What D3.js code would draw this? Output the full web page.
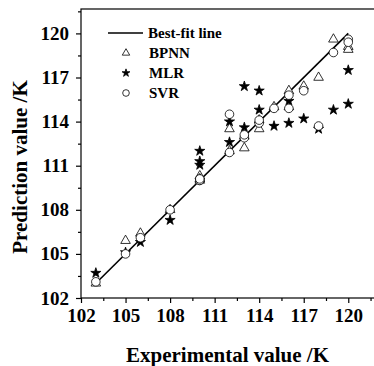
<!DOCTYPE html>
<html>
<head>
<meta charset="utf-8">
<script src="https://cdn.jsdelivr.net/npm/d3@7"></script>
<style>
  body { margin: 0; background: #fff; }
  svg text { font-family: "Liberation Serif", "Times New Roman", serif; font-weight: bold; fill: #000; }
</style>
</head>
<body>
<svg id="chart" width="374" height="366"></svg>
<script>

// experimental values (x) shared by every model
var expVals  = [103, 105, 106, 108, 110, 110, 110, 112, 112, 113, 113, 114, 114, 115, 116, 116, 117, 118, 119, 120, 120];
var bpnnPred = [103.0, 105.9, 106.4, 108.0, 110.3, 110.1, 110.0, 113.5, 112.0, 112.2, 113.0, 113.5, 114.1, 115.0, 116.1, 115.0, 116.4, 117.0, 119.6, 119.1, 118.9];
var mlrPred  = [103.7, 105.1, 105.8, 107.3, 112.0, 111.3, 111.05, 114.0, 112.6, 116.4, 113.6, 116.1, 114.8, 113.7, 115.4, 113.9, 114.2, 113.5, 114.8, 117.5, 115.2];
var svrPred  = [103.1, 105.0, 106.1, 108.0, 110.0, 110.0, 110.1, 114.5, 111.9, 112.9, 113.1, 113.9, 114.1, 114.9, 115.8, 114.9, 116.1, 113.7, 118.7, 119.6, 119.4];
var fitX = [103, 120];
var fitY = [103, 120];
var majorTicks = [102, 105, 108, 111, 114, 117, 120];
var minorTicks = [103.5, 106.5, 109.5, 112.5, 115.5, 118.5, 121.5];
var seriesNames = ["BPNN", "MLR", "SVR"];

var svg = d3.select("#chart");
var margin = {left: 81, top: 9, right: 375, bottom: 298};

var x = d3.scaleLinear().domain([102, 121.8]).range([margin.left, margin.right]);
var y = d3.scaleLinear().domain([102, 121.66]).range([margin.bottom, margin.top]);

// frame
svg.append("rect")
    .attr("x", margin.left).attr("y", margin.top)
    .attr("width", margin.right - margin.left).attr("height", margin.bottom - margin.top)
    .attr("fill", "none").attr("stroke", "#000").attr("stroke-width", 1.2);

function styleAxis(g, size){
    g.select(".domain").remove();
    g.selectAll("line").attr("stroke", "#000").attr("stroke-width", 1.2);
    g.selectAll("text").style("font-size", size + "px");
}

svg.append("g")
    .attr("transform", "translate(0," + margin.bottom + ")")
    .call(d3.axisBottom(x).tickValues(majorTicks).tickSize(5).tickPadding(6).tickFormat(d3.format("d")))
    .call(styleAxis, 19);
svg.append("g")
    .attr("transform", "translate(0," + margin.bottom + ")")
    .call(d3.axisBottom(x).tickValues(minorTicks).tickSize(3).tickFormat(""))
    .call(styleAxis, 19);
svg.append("g")
    .attr("transform", "translate(" + margin.left + ",0)")
    .call(d3.axisLeft(y).tickValues(majorTicks).tickSize(5).tickPadding(7).tickFormat(d3.format("d")))
    .call(styleAxis, 19);
svg.append("g")
    .attr("transform", "translate(" + margin.left + ",0)")
    .call(d3.axisLeft(y).tickValues(minorTicks).tickSize(3).tickFormat(""))
    .call(styleAxis, 19);

// axis titles
svg.append("text")
    .attr("x", (margin.left + 374) / 2 + 0).attr("y", 362)
    .attr("text-anchor", "middle").style("font-size", "21px")
    .text("Experimental value /K");
svg.append("text")
    .attr("transform", "translate(27," + 167 + ") rotate(-90)")
    .attr("text-anchor", "middle").style("font-size", "21px")
    .text("Prediction value /K");

// best-fit line
var line = d3.line().x(function(d){ return x(d[0]); }).y(function(d){ return y(d[1]); });
svg.append("path")
    .datum(d3.zip(fitX, fitY))
    .attr("d", line)
    .attr("fill", "none").attr("stroke", "#000").attr("stroke-width", 1.6);

var shapes = {
    "BPNN": {sym: d3.symbolTriangle, size: 40, fill: "#fff", pred: bpnnPred},
    "MLR":  {sym: d3.symbolStar,     size: 32, fill: "#000", pred: mlrPred},
    "SVR":  {sym: d3.symbolCircle,   size: 58, fill: "#fff", pred: svrPred}
};

seriesNames.forEach(function(name){
    var s = shapes[name];
    svg.append("g").selectAll("path")
        .data(d3.zip(expVals, s.pred))
        .enter().append("path")
        .attr("transform", function(d){ return "translate(" + x(d[0]) + "," + y(d[1]) + ")"; })
        .attr("d", d3.symbol().type(s.sym).size(s.size))
        .attr("fill", s.fill).attr("stroke", "#000").attr("stroke-width", 0.8);
});

// legend
var lg = svg.append("g");
lg.append("line")
    .attr("x1", 108).attr("x2", 143).attr("y1", 33).attr("y2", 33)
    .attr("stroke", "#000").attr("stroke-width", 1.6);
lg.append("text").attr("x", 148).attr("y", 38).style("font-size", "15px").text("Best-fit line");
seriesNames.forEach(function(name, i){
    var s = shapes[name];
    var ly = 53 + i * 20;
    lg.append("path")
        .attr("transform", "translate(126," + ly + ")")
        .attr("d", d3.symbol().type(s.sym).size(s.size * 0.6))
        .attr("fill", s.fill).attr("stroke", "#000").attr("stroke-width", 0.8);
    lg.append("text").attr("x", 149).attr("y", ly + 5).style("font-size", "15px").text(name);
});

</script>
</body>
</html>
